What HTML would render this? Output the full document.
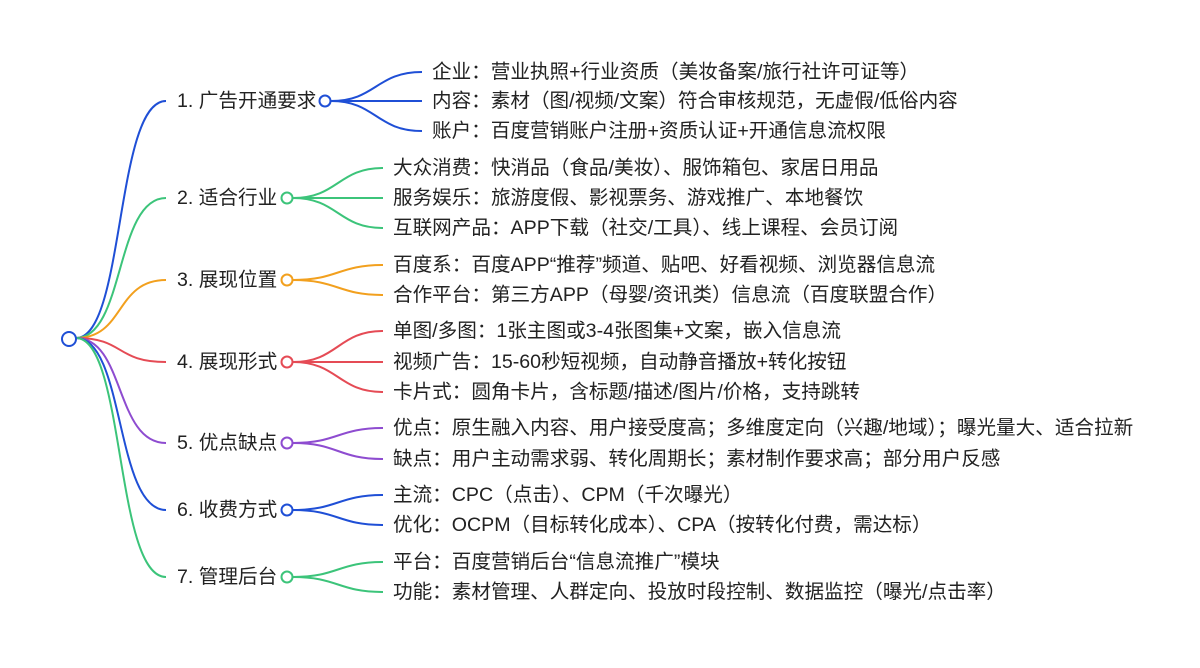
<!DOCTYPE html>
<html><head><meta charset="utf-8"><style>
html,body{margin:0;padding:0;background:#fff;}
svg text{font-family:"Liberation Sans","Noto Sans CJK SC",sans-serif;font-size:19.6px;fill:#222;dominant-baseline:central;}
</style></head><body>
<svg width="1200" height="663" viewBox="0 0 1200 663" xmlns="http://www.w3.org/2000/svg" fill="none" stroke-width="2">
<path d="M76 338 C125 338 115 101 166 101" stroke="#1f4fd6"/>
<path d="M76 338 C125 338 115 198 166 198" stroke="#3cc47a"/>
<path d="M76 338 C125 338 115 280 166 280" stroke="#f2a01e"/>
<path d="M76 338 C125 338 115 362 166 362" stroke="#e54b55"/>
<path d="M76 338 C125 338 115 443 166 443" stroke="#8e4cd0"/>
<path d="M76 338 C125 338 115 510 166 510" stroke="#1f4fd6"/>
<path d="M76 338 C125 338 115 577 166 577" stroke="#3cc47a"/>
<circle cx="69" cy="339" r="7" stroke="#1f4fd6" fill="#fff"/>

<g stroke="#1f4fd6">
<path d="M331 101 C376 101 376 72 422 72"/><path d="M331 101 L422 101"/><path d="M331 101 C376 101 376 131 422 131"/>
<circle cx="325" cy="101" r="5.5" fill="#fff"/></g>
<g stroke="#3cc47a">
<path d="M293 198 C338 198 338 168 383 168"/><path d="M293 198 L383 198"/><path d="M293 198 C338 198 338 228 383 228"/>
<circle cx="287" cy="198" r="5.5" fill="#fff"/></g>
<g stroke="#f2a01e">
<path d="M293 280 C338 280 338 265 383 265"/><path d="M293 280 C338 280 338 295 383 295"/>
<circle cx="287" cy="280" r="5.5" fill="#fff"/></g>
<g stroke="#e54b55">
<path d="M293 362 C338 362 338 331 383 331"/><path d="M293 362 L383 362"/><path d="M293 362 C338 362 338 392 383 392"/>
<circle cx="287" cy="362" r="5.5" fill="#fff"/></g>
<g stroke="#8e4cd0">
<path d="M293 443 C338 443 338 428 383 428"/><path d="M293 443 C338 443 338 459 383 459"/>
<circle cx="287" cy="443" r="5.5" fill="#fff"/></g>
<g stroke="#1f4fd6">
<path d="M293 510 C338 510 338 495 383 495"/><path d="M293 510 C338 510 338 525 383 525"/>
<circle cx="287" cy="510" r="5.5" fill="#fff"/></g>
<g stroke="#3cc47a">
<path d="M293 577 C338 577 338 562 383 562"/><path d="M293 577 C338 577 338 592 383 592"/>
<circle cx="287" cy="577" r="5.5" fill="#fff"/></g>

<g stroke="none">
<text x="177" y="101">1. 广告开通要求</text>
<text x="177" y="198">2. 适合行业</text>
<text x="177" y="280">3. 展现位置</text>
<text x="177" y="362">4. 展现形式</text>
<text x="177" y="443">5. 优点缺点</text>
<text x="177" y="510">6. 收费方式</text>
<text x="177" y="577">7. 管理后台</text>

<text x="432" y="72">企业：营业执照+行业资质（美妆备案/旅行社许可证等）</text>
<text x="432" y="101">内容：素材（图/视频/文案）符合审核规范，无虚假/低俗内容</text>
<text x="432" y="131">账户：百度营销账户注册+资质认证+开通信息流权限</text>
<text x="393" y="168">大众消费：快消品（食品/美妆）、服饰箱包、家居日用品</text>
<text x="393" y="198">服务娱乐：旅游度假、影视票务、游戏推广、本地餐饮</text>
<text x="393" y="228">互联网产品：APP下载（社交/工具）、线上课程、会员订阅</text>
<text x="393" y="265">百度系：百度APP“推荐”频道、贴吧、好看视频、浏览器信息流</text>
<text x="393" y="295">合作平台：第三方APP（母婴/资讯类）信息流（百度联盟合作）</text>
<text x="393" y="331">单图/多图：1张主图或3-4张图集+文案，嵌入信息流</text>
<text x="393" y="362">视频广告：15-60秒短视频，自动静音播放+转化按钮</text>
<text x="393" y="392">卡片式：圆角卡片，含标题/描述/图片/价格，支持跳转</text>
<text x="393" y="428">优点：原生融入内容、用户接受度高；多维度定向（兴趣/地域）；曝光量大、适合拉新</text>
<text x="393" y="459">缺点：用户主动需求弱、转化周期长；素材制作要求高；部分用户反感</text>
<text x="393" y="495">主流：CPC（点击）、CPM（千次曝光）</text>
<text x="393" y="525">优化：OCPM（目标转化成本）、CPA（按转化付费，需达标）</text>
<text x="393" y="562">平台：百度营销后台“信息流推广”模块</text>
<text x="393" y="592">功能：素材管理、人群定向、投放时段控制、数据监控（曝光/点击率）</text>
</g>
</svg>
</body></html>
